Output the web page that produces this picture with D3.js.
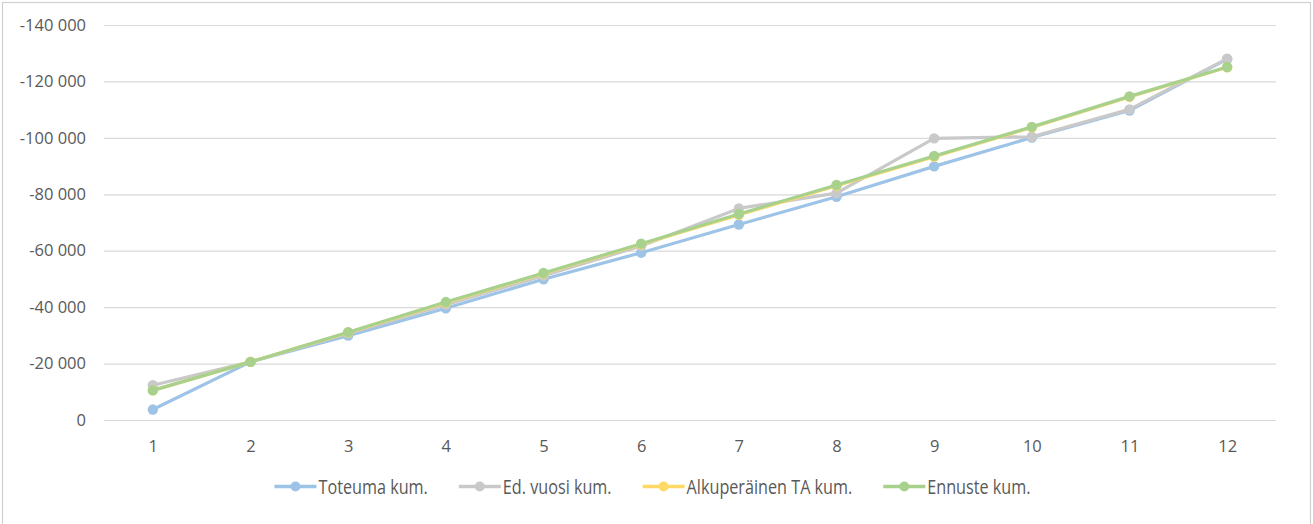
<!DOCTYPE html>
<html>
<head>
<meta charset="utf-8">
<script src="https://cdn.jsdelivr.net/npm/d3@7"></script>
<style>
  html, body { margin: 0; padding: 0; background: #fff; }
  svg { display: block; font-family: "Open Sans", sans-serif; }
</style>
</head>
<body>
<svg id="chart" width="1313" height="524"></svg>
<script>
// ---- data ----
const months = [1, 2, 3, 4, 5, 6, 7, 8, 9, 10, 11, 12];
const seriesNames = ["Toteuma kum.", "Ed. vuosi kum.", "Alkuperäinen TA kum.", "Ennuste kum."];
const seriesColors = ["#9dc3e6", "#c9c9c9", "#ffd966", "#a9d18e"];
const toteuma = [-3700, -20600, -29900, -39600, -49900, -59300, -69300, -79100, -89900, -100100, -109700, -127900];
const edVuosi = [-12300, -20600, -30700, -40900, -51100, -61700, -75000, -80400, -99800, -100400, -110100, -128100];
const alkuperainenTA = [-10500, -20600, -31000, -41600, -51900, -62300, -72700, -83000, -93300, -103700, -114500, -125000];
const ennuste = [-10500, -20600, -31100, -41800, -52100, -62500, -73000, -83300, -93600, -103900, -114700, -125100];
const yTicks = [0, -20000, -40000, -60000, -80000, -100000, -120000, -140000];

const seriesValues = [toteuma, edVuosi, alkuperainenTA, ennuste];
const series = seriesNames.map((name, i) => ({
  name, color: seriesColors[i],
  points: months.map((m, j) => ({ m, v: seriesValues[i][j] }))
}));

// ---- layout ----
const W = 1313, H = 524;
const plot = { left: 104, right: 1276, top: 25, bottom: 420 };
const textColor = "#595959";

const svg = d3.select("#chart");

// chart border
svg.append("rect")
  .attr("x", 2.5).attr("y", 2.5)
  .attr("width", W - 5).attr("height", H + 20)
  .attr("fill", "#fff")
  .attr("stroke", "#d0d0d0").attr("stroke-width", 1.2);

const x = d3.scalePoint().domain(months).range([plot.left, plot.right]).padding(0.5);
const y = d3.scaleLinear().domain([0, -140000]).range([plot.bottom, plot.top]);

const locale = d3.formatLocale({ decimal: ",", thousands: "\u00a0", grouping: [3], currency: ["", ""], minus: "-" });
const fmt = locale.format(",d");

// gridlines
svg.append("g")
  .selectAll("line")
  .data(yTicks)
  .join("line")
  .attr("x1", plot.left).attr("x2", plot.right)
  .attr("y1", d => y(d) + 0.5).attr("y2", d => y(d) + 0.5)
  .attr("stroke", "#d9d9d9").attr("stroke-width", 1.2);

// y axis labels
const yAxis = d3.axisLeft(y).tickValues(yTicks).tickFormat(d => fmt(d)).tickSize(0).tickPadding(0);
const yg = svg.append("g").attr("transform", `translate(86,0)`).call(yAxis);
yg.select(".domain").remove();
yg.selectAll("text")
  .attr("fill", textColor)
  .style("font-size", "16.5px")
  .style("font-family", "'Open Sans', sans-serif");

// x axis labels
const xAxis = d3.axisBottom(x).tickSize(0).tickPadding(0);
const xg = svg.append("g").attr("transform", `translate(0,446)`).call(xAxis);
xg.select(".domain").remove();
xg.selectAll("text")
  .attr("fill", textColor)
  .attr("dy", "0.35em")
  .style("font-size", "16.5px")
  .style("font-family", "'Open Sans', sans-serif");

// lines
const line = d3.line().x(d => x(d.m)).y(d => y(d.v));
const sg = svg.append("g").selectAll("g").data(series).join("g");
sg.append("path")
  .attr("d", d => line(d.points))
  .attr("fill", "none")
  .attr("stroke", d => d.color)
  .attr("stroke-width", 3.2)
  .attr("stroke-linejoin", "round")
  .attr("stroke-linecap", "round");
sg.selectAll("circle")
  .data(d => d.points.map(p => ({ ...p, color: d.color })))
  .join("circle")
  .attr("cx", d => x(d.m)).attr("cy", d => y(d.v))
  .attr("r", 5.2)
  .attr("fill", d => d.color);

// legend
const legendY = 486.5;
const lineLen = 42, gapText = 2, gapItem = 31, sx = 0.81;
const lg = svg.append("g");
const items = lg.selectAll("g").data(series).join("g");
items.append("line")
  .attr("x1", 0).attr("x2", lineLen).attr("y1", 0).attr("y2", 0)
  .attr("stroke", d => d.color).attr("stroke-width", 3.5);
items.append("circle")
  .attr("cx", lineLen / 2).attr("cy", 0).attr("r", 5)
  .attr("fill", d => d.color);
const tg = items.append("g").attr("transform", `translate(${lineLen + gapText},0) scale(${sx},1)`);
tg.append("text")
  .text(d => d.name)
  .attr("dy", "0.35em")
  .attr("fill", textColor)
  .style("font-size", "20px")
  .style("font-family", "'Open Sans', sans-serif");
const widths = [];
tg.select("text").each(function () { widths.push(lineLen + gapText + this.getComputedTextLength() * sx); });
const total = d3.sum(widths) + gapItem * (widths.length - 1);
let cx = 652.5 - total / 2;
items.attr("transform", (d, i) => {
  const t = `translate(${cx},${legendY})`;
  cx += widths[i] + gapItem;
  return t;
});
</script>
</body>
</html>
